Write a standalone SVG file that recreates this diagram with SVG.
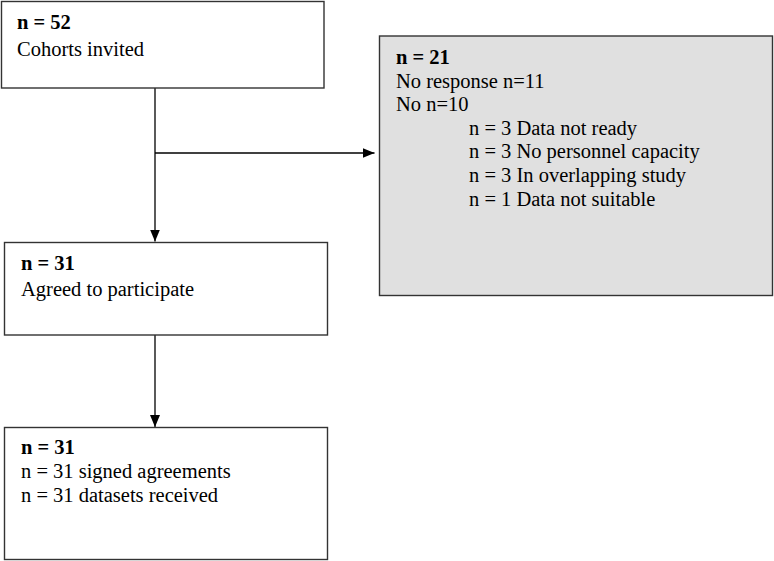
<svg xmlns="http://www.w3.org/2000/svg" width="774" height="561" viewBox="0 0 774 561">
  <style>
    .box { fill: #ffffff; stroke: #333333; stroke-width: 1.4; }
    .grey { fill: #e0e0e0; stroke: #333333; stroke-width: 1.4; }
    text { font-family: "Liberation Serif", "Times New Roman", serif; font-size: 20.5px; fill: #000000; }
    .b { font-weight: bold; }
    .conn { stroke: #000000; stroke-width: 1.3; fill: none; }
  </style>
  <defs>
    <marker id="arrow" viewBox="0 0 12 10" refX="12" refY="5" markerWidth="12" markerHeight="10" markerUnits="userSpaceOnUse" orient="auto">
      <path d="M0,0 L12,5 L0,10 Z" fill="#000000"/>
    </marker>
  </defs>
  <rect width="774" height="561" fill="#ffffff"/>

  <g id="connectors">
    <line class="conn" x1="155" y1="88" x2="155" y2="241.5" marker-end="url(#arrow)"/>
    <line class="conn" x1="155" y1="153" x2="374.5" y2="153" marker-end="url(#arrow)"/>
    <line class="conn" x1="155" y1="335" x2="155" y2="427" marker-end="url(#arrow)"/>
  </g>

  <g id="node-invited">
    <rect class="box" x="1.5" y="1.5" width="322.5" height="86.5"/>
    <text x="17" y="29" class="b">n = 52</text>
    <text x="17" y="55.5">Cohorts invited</text>
  </g>

  <g id="node-excluded">
    <rect class="grey" x="379.5" y="36" width="393" height="259.5"/>
    <text x="396" y="64" class="b">n = 21</text>
    <text x="396" y="87.5">No response n=11</text>
    <text x="396" y="111">No n=10</text>
    <text x="469" y="134.5">n = 3 Data not ready</text>
    <text x="469" y="158">n = 3 No personnel capacity</text>
    <text x="469" y="181.5">n = 3 In overlapping study</text>
    <text x="469" y="205.5">n = 1 Data not suitable</text>
  </g>

  <g id="node-agreed">
    <rect class="box" x="4.5" y="242.5" width="323" height="92.5"/>
    <text x="21" y="270" class="b">n = 31</text>
    <text x="21" y="296">Agreed to participate</text>
  </g>

  <g id="node-received">
    <rect class="box" x="4.5" y="427.5" width="323" height="132"/>
    <text x="21" y="454" class="b">n = 31</text>
    <text x="21" y="478">n = 31 signed agreements</text>
    <text x="21" y="502">n = 31 datasets received</text>
  </g>
</svg>
